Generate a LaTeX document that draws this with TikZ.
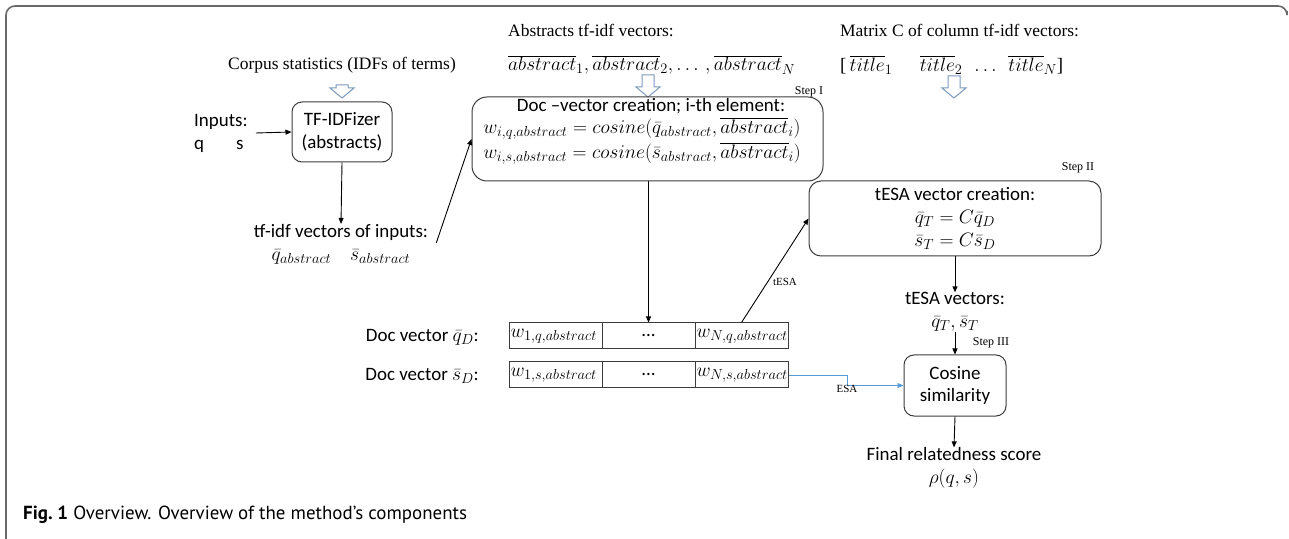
\RequirePackage{fix-cm}
\documentclass[tikz,border=0pt]{standalone}
\usepackage{fontspec}
\setmainfont{Carlito}
\newfontfamily\tms{Liberation Serif}
\newfontfamily\capfont{PT Sans}
\DeclareMathSizes{19}{19.5}{14.5}{10.5}
\usetikzlibrary{arrows.meta,calc}
\definecolor{boxgray}{RGB}{60,60,60}
\definecolor{framegray}{RGB}{105,105,105}
\definecolor{hollowblue}{RGB}{125,152,190}
\definecolor{esablue}{RGB}{91,155,213}
% hollow block arrow pointing down: centre x, top y, tip y
\newcommand\hollowdown[3]{%
  \draw[hollow] (#1-6,#2) -- (#1+6,#2) -- (#1+6,#3-10) -- (#1+12,#3-10) -- (#1,#3)
    -- (#1-12,#3-10) -- (#1-6,#3-10) -- cycle;}
\begin{document}
\begin{tikzpicture}[x=1bp,y=-1bp,
  sanstext/.style={font=\fontsize{19}{23}\selectfont, inner sep=0pt, align=center},
  serif/.style={font=\tms\fontsize{17.5}{20}\selectfont, inner sep=0pt},
  steplbl/.style={font=\tms\fontsize{12}{14}\selectfont, inner sep=0pt},
  smalllbl/.style={font=\tms\fontsize{11}{13}\selectfont, inner sep=0pt},
  rbox/.style={draw=boxgray, line width=1bp, rounded corners=10bp, inner sep=0pt,
    font=\fontsize{19}{23}\selectfont, align=center},
  cell/.style={draw=boxgray, line width=1bp, text width=90bp, inner sep=1.5bp,
    minimum height=26bp, font=\fontsize{19}{23}\selectfont},
  conn/.style={draw=black, line width=0.9bp, -{Triangle[length=6bp,width=5bp]}},
  hollow/.style={draw=hollowblue, line width=1bp, fill=white, line join=miter}]
\useasboundingbox (0,0) rectangle (1289,539);

% outer frame
\draw[framegray, line width=1.6bp, rounded corners=9bp] (6,539) -- (6,6) -- (1287,6) -- (1287,11);

% step 0: tf-idf of the inputs
\node[serif] (corpus) at (342,65) {Corpus statistics (IDFs of terms)};
\hollowdown{342}{85}{98}
\node[rbox, minimum width=100bp, minimum height=60bp] (tfbox) at (342,132) {TF-IDFizer\\(abstracts)};
\node[sanstext, anchor=west, align=left] (inputs) at (194,133) {Inputs:\\q\hspace{32bp}s};
\draw[conn] ([xshift=8bp]inputs.east) -- (tfbox.west);
\node[sanstext] (tfvec) at (341,244) {tf-idf vectors of inputs:\\$\bar q_{abstract}\quad\bar s_{abstract}$};
\draw[conn] (tfbox.south) -- (tfvec.north);

% step I: document vectors
\node[serif, anchor=west] (abslbl) at (508,30) {Abstracts tf-idf vectors:};
\node[sanstext, anchor=west] (absvec) at (508,65)
  {$\overline{abstract}_1, \overline{abstract}_2, \ldots\,, \overline{abstract}_N$};
\hollowdown{648}{75}{97}
\node[draw=boxgray, line width=1bp, rounded corners=15bp, minimum width=351bp,
  minimum height=84bp, inner sep=0pt] (docbox) at (647.5,139) {};
\node[sanstext] (doctitle) at (651,106) {Doc \textendash vector creation; i-th element:};
\node[sanstext] (eqq) at (642,128.5) {$w_{i,q,abstract} = cosine\bigl(\bar q_{abstract},\overline{abstract}_i\bigr)$};
\node[sanstext] (eqs) at (642,153.5) {$w_{i,s,abstract} = cosine(\bar s_{abstract},\overline{abstract}_i)$};
\node[steplbl] (stepI) at (809,92) {Step I};
\draw[conn] ([xshift=8bp,yshift=1bp]tfvec.east) -- (docbox.west);

% step II: tESA vectors
\node[serif, anchor=west] (matlbl) at (840,30) {Matrix C of column tf-idf vectors:};
\node[sanstext, anchor=west] (titles) at (840,65)
  {{\tms[}\,$\overline{title}_1\quad\ \ \overline{title}_2\ \ \ldots\ \ \overline{title}_N${\tms]}};
\hollowdown{954}{76}{98}
\node[rbox, rounded corners=12bp, minimum width=292bp, minimum height=75bp] (tesabox) at (955,218.5)
  {tESA vector creation:\\$\bar q_T = C\bar q_D$\\$\bar s_T = C\bar s_D$};
\node[steplbl] (stepII) at (1078,168) {Step II};
\node[sanstext] (tesavec) at (955,312) {tESA vectors:\\$\bar q_T, \bar s_T$};
\draw[conn] (tesabox.south) -- (tesavec.north);

% document vector table
\node[sanstext, anchor=east] (qlbl) at (479,337) {Doc vector $\bar q_D$:};
\node[sanstext, anchor=east] (slbl) at (479,376) {Doc vector $\bar s_D$:};
\node[cell, align=left] (q1) at (555.5,336) {$w_{1,q,abstract}$};
\node[cell, align=center] (qd) at (648.5,336) {...};
\node[cell, align=left] (qN) at (741.5,336) {$w_{N,q,abstract}$};
\node[cell, align=left] (s1) at (555.5,375) {$w_{1,s,abstract}$};
\node[cell, align=center] (sd) at (648.5,375) {...};
\node[cell, align=left] (sN) at (741.5,375) {$w_{N,s,abstract}$};
\draw[conn] (docbox.south -| qd.north) -- (qd.north);
\draw[conn] (qN.north) -- (tesabox.west);
\node[smalllbl] (tesalbl) at (785,282) {tESA};

% step III: cosine similarity
\node[rbox, minimum width=102bp, minimum height=61bp] (cosine) at (955,385.5) {Cosine\\similarity};
\draw[conn] (tesavec.south) -- (cosine.north);
\node[steplbl] (stepIII) at (991,343) {Step III};
\draw[conn, draw=esablue] (sN.east) -- ++(59,0) |- (cosine.west);
\node[smalllbl] (esalbl) at (847,389) {ESA};
\node[sanstext] (final) at (954,468) {Final relatedness score\\$\rho(q,s)$};
\draw[conn] (cosine.south) -- (final.north);

% caption
\node[anchor=west, inner sep=0pt, font=\capfont\fontsize{19}{23}\selectfont] (caption) at (23,515)
  {\textbf{Fig.\ 1} Overview. Overview of the method’s components};
\end{tikzpicture}
\end{document}
